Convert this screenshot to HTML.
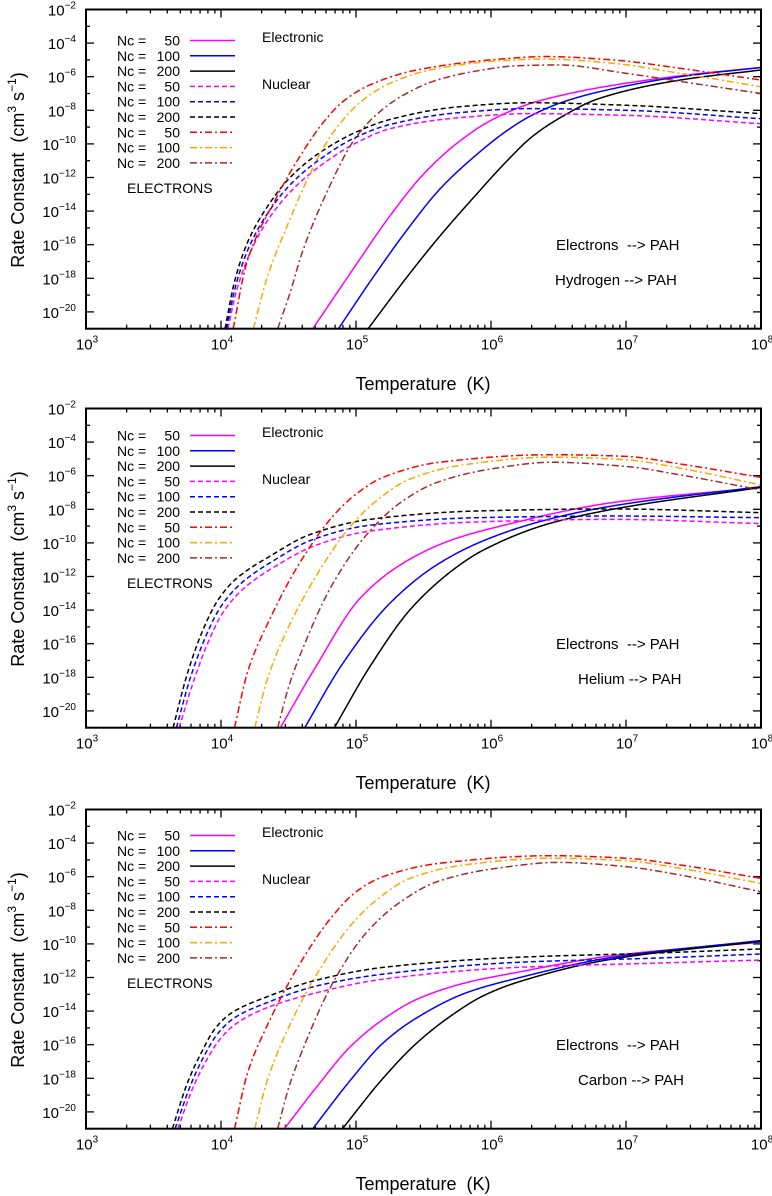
<!DOCTYPE html>
<html><head><meta charset="utf-8">
<style>
html,body{margin:0;padding:0;background:#fff;}
svg{display:block;font-family:"Liberation Sans",Arial,sans-serif;}
</style></head>
<body>
<svg id="chart" width="772" height="1196" viewBox="0 0 772 1196" xmlns="http://www.w3.org/2000/svg"></svg>
<script>
// ---- data (log10 T, log10 rate) ----
const xTicks = [3,4,5,6,7,8];
const yTicks = [-2,-4,-6,-8,-10,-12,-14,-16,-18,-20];
const legendNums = ["50","100","200","50","100","200","50","100","200"];
const panelTitles1 = ["Electrons\u00a0\u00a0--> PAH","Electrons\u00a0\u00a0--> PAH","Electrons\u00a0\u00a0--> PAH"];
const panelTitles2 = ["Hydrogen --> PAH","Helium --> PAH","Carbon --> PAH"];

// Panel 1 (Hydrogen)
const p1_e50 = [[4.68,-21],[5.0,-17.2],[5.25,-14.3],[5.5,-11.8],[5.75,-9.95],[6.0,-8.6],[6.29,-7.6],[6.5,-7.15],[6.8,-6.65],[7.4,-5.95],[8,-5.45]];
const p1_e100 = [[4.87,-21],[5.13,-17.9],[5.38,-15.1],[5.62,-12.7],[5.87,-10.8],[6.12,-9.2],[6.29,-8.35],[6.5,-7.6],[6.8,-6.9],[7.4,-6.0],[8,-5.45]];
const p1_e200 = [[5.09,-21],[5.38,-17.9],[5.62,-15.5],[5.87,-13.2],[6.12,-11.0],[6.3,-9.6],[6.5,-8.5],[6.8,-7.3],[7.4,-6.2],[8,-5.6]];
const p1_n50 = [[4.05,-21],[4.12,-18.6],[4.22,-16.4],[4.35,-14.5],[4.52,-12.8],[4.72,-11.4],[5.0,-9.95],[5.25,-9.1],[5.75,-8.45],[6.29,-8.2],[7,-8.3],[8,-8.8]];
const p1_n100 = [[4.04,-21],[4.11,-18.4],[4.21,-16.1],[4.34,-14.2],[4.51,-12.45],[4.71,-11.05],[5.0,-9.6],[5.25,-8.85],[5.75,-8.15],[6.29,-7.9],[7,-8.0],[8,-8.5]];
const p1_n200 = [[4.03,-21],[4.1,-18.2],[4.2,-15.8],[4.33,-13.9],[4.5,-12.1],[4.7,-10.7],[5.0,-9.3],[5.25,-8.55],[5.75,-7.8],[6.29,-7.55],[7,-7.7],[8,-8.2]];
const p1_x50 = [[4.09,-21],[4.19,-17.1],[4.41,-13.2],[4.58,-10.8],[4.75,-8.8],[4.9,-7.5],[5.1,-6.5],[5.45,-5.6],[6.07,-4.95],[6.4,-4.8],[6.9,-5.0],[7.4,-5.5],[8,-6.2]];
const p1_x100 = [[4.24,-21],[4.34,-18],[4.51,-14.5],[4.64,-12.1],[4.76,-10.2],[4.88,-8.8],[5.05,-7.4],[5.25,-6.4],[5.55,-5.6],[6.07,-5.05],[6.4,-4.95],[6.9,-5.2],[7.4,-5.8],[8,-6.6]];
const p1_x200 = [[4.42,-21],[4.51,-18.9],[4.6,-16.5],[4.76,-13.3],[5.0,-9.6],[5.16,-8.2],[5.35,-7.1],[5.6,-6.2],[5.9,-5.65],[6.19,-5.35],[6.5,-5.3],[7,-5.8],[7.5,-6.4],[8,-7.0]];

// Panel 2 (Helium)
const p2_e50 = [[4.44,-21],[4.7,-17.4],[5.03,-13.3],[5.35,-11.2],[5.7,-9.85],[6.07,-9.0],[6.9,-7.6],[8,-6.7]];
const p2_e100 = [[4.62,-21],[4.9,-17.2],[5.25,-13.6],[5.6,-11.3],[5.95,-9.85],[6.4,-8.65],[6.9,-7.8],[8,-6.65]];
const p2_e200 = [[4.84,-21],[5.1,-17.4],[5.42,-13.8],[5.77,-11.3],[5.95,-10.4],[6.41,-8.9],[6.9,-8.0],[8,-6.7]];
const p2_n50 = [[3.69,-21],[3.79,-18.4],[3.9,-16.0],[4.01,-14.2],[4.13,-13.0],[4.24,-12.25],[4.38,-11.5],[4.7,-10.15],[5.1,-9.3],[5.9,-8.75],[6.9,-8.6],[8,-8.85]];
const p2_n100 = [[3.67,-21],[3.77,-18.1],[3.88,-15.7],[3.99,-13.9],[4.11,-12.7],[4.22,-11.95],[4.36,-11.2],[4.68,-9.8],[5.1,-8.95],[5.9,-8.5],[6.9,-8.4],[8,-8.5]];
const p2_n200 = [[3.645,-21],[3.75,-17.8],[3.86,-15.3],[3.97,-13.5],[4.09,-12.3],[4.2,-11.6],[4.34,-10.9],[4.66,-9.5],[5.1,-8.6],[5.9,-8.1],[6.9,-7.98],[8,-8.2]];
const p2_x50 = [[4.10,-21],[4.2,-17.6],[4.34,-14.9],[4.59,-11.1],[4.83,-8.4],[5.0,-7.1],[5.2,-6.1],[5.62,-5.2],[6.44,-4.75],[7,-4.85],[7.4,-5.3],[8,-6.1]];
const p2_x100 = [[4.25,-21],[4.34,-18.2],[4.46,-15.7],[4.71,-11.9],[4.96,-9.0],[5.15,-7.5],[5.4,-6.2],[5.8,-5.35],[6.44,-4.9],[7,-5.05],[7.4,-5.55],[8,-6.55]];
const p2_x200 = [[4.42,-21],[4.5,-18.6],[4.59,-16.6],[4.83,-12.4],[5.08,-9.5],[5.33,-7.6],[5.6,-6.4],[6.0,-5.6],[6.45,-5.2],[7,-5.45],[7.4,-5.95],[8,-6.85]];

// Panel 3 (Carbon)
const p3_e50 = [[4.47,-21],[4.71,-18.5],[4.96,-16.1],[5.2,-14.5],[5.45,-13.3],[5.82,-12.3],[6.19,-11.7],[6.9,-10.7],[8,-9.9]];
const p3_e100 = [[4.68,-21],[4.96,-18.1],[5.2,-15.9],[5.45,-14.4],[5.82,-12.9],[6.19,-12.05],[6.9,-10.8],[8,-9.8]];
const p3_e200 = [[4.90,-21],[5.2,-18.0],[5.45,-15.9],[5.7,-14.3],[5.94,-13.1],[6.19,-12.3],[6.9,-10.9],[8,-9.85]];
const p3_n50 = [[3.68,-21],[3.79,-18.6],[3.88,-17.1],[4.0,-15.6],[4.12,-14.7],[4.34,-13.8],[4.71,-12.9],[5.2,-12.1],[6.19,-11.4],[7.2,-11.15],[8,-10.96]];
const p3_n100 = [[3.66,-21],[3.77,-18.5],[3.86,-16.9],[3.98,-15.3],[4.1,-14.4],[4.34,-13.5],[4.71,-12.5],[5.2,-11.8],[6.19,-11.1],[7.2,-10.85],[8,-10.6]];
const p3_n200 = [[3.64,-21],[3.75,-18.3],[3.84,-16.7],[3.96,-15.0],[4.08,-14.1],[4.34,-13.15],[4.71,-12.15],[5.2,-11.4],[6.19,-10.8],[7.2,-10.55],[8,-10.3]];
const p3_x50 = [[4.10,-21],[4.2,-17.6],[4.34,-14.9],[4.59,-11.1],[4.83,-8.3],[5.0,-6.9],[5.2,-6.0],[5.62,-5.2],[6.44,-4.75],[7,-4.9],[7.4,-5.3],[8,-6.1]];
const p3_x100 = [[4.25,-21],[4.34,-18.2],[4.46,-15.7],[4.71,-11.8],[4.96,-8.9],[5.15,-7.4],[5.4,-6.1],[5.8,-5.3],[6.44,-4.9],[7,-5.05],[7.4,-5.5],[8,-6.4]];
const p3_x200 = [[4.42,-21],[4.5,-18.6],[4.59,-16.6],[4.83,-12.3],[5.08,-9.3],[5.33,-7.5],[5.6,-6.3],[6.0,-5.55],[6.5,-5.15],[7,-5.4],[7.4,-5.9],[8,-6.9]];

const panelSeries = [
  [p1_e50,p1_e100,p1_e200,p1_n50,p1_n100,p1_n200,p1_x50,p1_x100,p1_x200],
  [p2_e50,p2_e100,p2_e200,p2_n50,p2_n100,p2_n200,p2_x50,p2_x100,p2_x200],
  [p3_e50,p3_e100,p3_e200,p3_n50,p3_n100,p3_n200,p3_x50,p3_x100,p3_x200]
];
const seriesNames = ["electronic-nc50","electronic-nc100","electronic-nc200","nuclear-nc50","nuclear-nc100","nuclear-nc200","electrons-nc50","electrons-nc100","electrons-nc200"];
const colors = ["#ff00ff","#0000ff","#000000","#ff00ff","#0000ff","#000000","#ff0000","#ffa500","#a52a2a"];
const dashes = ["","","","5,3","5,3","5,3","7,3,2,3","7,3,2,3","7,3,2,3"];

// ---- drawing ----
const NS = "http://www.w3.org/2000/svg";
const svg = document.getElementById("chart");
const L = 86, R = 761, PX = 135, PY = 16.8;
const offsets = [0, 399, 800];
const legOff = [0, 395, 795];
function mk(tag, attrs, parent){ const e=document.createElementNS(NS,tag); for(const k in attrs) e.setAttribute(k,attrs[k]); (parent||svg).appendChild(e); return e; }
function xs(lt){ return L + (lt-3)*PX; }
function ysf(top){ return lk => top + (-2 - lk)*PY; }
function monotone(pts){
  const n=pts.length, xv=pts.map(p=>p[0]), yv=pts.map(p=>p[1]);
  const d=[], m=new Array(n);
  for(let i=0;i<n-1;i++) d.push((yv[i+1]-yv[i])/(xv[i+1]-xv[i]));
  m[0]=d[0]; m[n-1]=d[n-2];
  for(let i=1;i<n-1;i++){
    if(d[i-1]*d[i]<=0) m[i]=0;
    else { const w1=2*(xv[i+1]-xv[i])+(xv[i]-xv[i-1]), w2=(xv[i+1]-xv[i])+2*(xv[i]-xv[i-1]);
      m[i]=(w1+w2)/(w1/d[i-1]+w2/d[i]); }
  }
  const out=[];
  for(let i=0;i<n-1;i++){
    const h=xv[i+1]-xv[i];
    const steps=Math.max(4,Math.ceil(h*120));
    for(let s=(i===0?0:1);s<=steps;s++){
      const t=s/steps, t2=t*t, t3=t2*t;
      const y=(2*t3-3*t2+1)*yv[i]+(t3-2*t2+t)*h*m[i]+(-2*t3+3*t2)*yv[i+1]+(t3-t2)*h*m[i+1];
      out.push([xv[i]+t*h,y]);
    }
  }
  return out;
}
function pow10(g, x, y, exp, anchor, name){
  const t = mk("text",{x:x,y:y,"font-size":15,"text-anchor":anchor,fill:"#000"},g);
  
  
  t.appendChild(document.createTextNode("10"));
  const s = mk("tspan",{"font-size":10,dy:-7},t);
  s.textContent = exp;
}

for(let p=0;p<3;p++){
  const off = offsets[p], top = 9.5+off, bot = top+19*PY;
  const ys = ysf(top);
  const g = mk("g",{});
  
  
  const cid = "clip"+p;
  const cp = mk("clipPath",{id:cid},g);
  mk("rect",{x:L,y:top,width:R-L,height:bot-top},cp);

  for(let lk=-2; lk>=-21; lk--){
    const y=ys(lk), len = (lk%2===0)?8:4;
    const t1=mk("line",{x1:L,y1:y,x2:L+len,y2:y,stroke:"#000","stroke-width":1.3},g);
    
    
    const t2=mk("line",{x1:R,y1:y,x2:R-len,y2:y,stroke:"#000","stroke-width":1.3},g);
    
    
  }
  yTicks.forEach(v=>{ pow10(g, 76, ys(v)+6, "\u2212"+(-v), "end", "y-tick-label"); });
  for(let d=3; d<8; d++){
    for(let m=1;m<10;m++){
      const x = xs(d+Math.log10(m)), len = m===1?8:4;
      const a=mk("line",{x1:x,y1:bot,x2:x,y2:bot-len,stroke:"#000","stroke-width":1.3},g);
      
      
      const b=mk("line",{x1:x,y1:top,x2:x,y2:top+len,stroke:"#000","stroke-width":1.3},g);
      
      
    }
  }
  xTicks.forEach(v=>{ pow10(g, xs(v)+1, bot+21, String(v), "middle", "x-tick-label"); });

  panelSeries[p].forEach((ser,i)=>{
    const pts = monotone(ser).map(q=>[xs(q[0]), ys(q[1])]);
    const d = "M"+pts.map(q=>q[0].toFixed(2)+","+q[1].toFixed(2)).join(" L");
    const path = mk("path",{d:d,fill:"none",stroke:colors[i],"stroke-width":1.5,"stroke-dasharray":dashes[i]||"none","clip-path":"url(#"+cid+")"},g);
    
    
  });

  const fr = mk("rect",{x:L,y:top,width:R-L,height:bot-top,fill:"none",stroke:"#000","stroke-width":2},g);
  
  

  const lo = legOff[p];
  const lg = mk("g",{},g);
  
  
  legendNums.forEach((n,i)=>{
    const y = 40.5 + lo + i*15.3;
    const e = mk("g",{},lg);
    
    
    const a = mk("text",{x:117,y:y+5,"font-size":14},e); a.textContent="Nc =";
    const b = mk("text",{x:180,y:y+5,"font-size":14,"text-anchor":"end"},e); b.textContent=n;
    mk("line",{x1:190,y1:y,x2:235,y2:y,stroke:colors[i],"stroke-width":1.5,"stroke-dasharray":dashes[i]||"none"},e);
  });
  const el = mk("text",{x:127,y:193+lo,"font-size":14},g); el.textContent="ELECTRONS";
   
  const ec = mk("text",{x:262,y:42+lo,"font-size":14},g); ec.textContent="Electronic";
   
  const nu = mk("text",{x:262,y:89+lo,"font-size":14},g); nu.textContent="Nuclear";
   

  const t1 = mk("text",{x:556,y:250+off,"font-size":15},g); t1.textContent=panelTitles1[p];
   
  const t2 = mk("text",{x:p===0?555:578,y:285+off,"font-size":15},g); t2.textContent=panelTitles2[p];
   

  const xt = mk("text",{x:423,y:390+off,"font-size":18,"text-anchor":"middle"},g);
  xt.textContent="Temperature\u00a0\u00a0(K)";
   
  const yt = mk("text",{x:0,y:0,"font-size":18,"text-anchor":"middle",transform:"translate(24,"+(170+off)+") rotate(-90)"},g);
   
  yt.appendChild(document.createTextNode("Rate Constant\u00a0\u00a0(cm"));
  let s1 = mk("tspan",{"font-size":12,dy:-8},yt); s1.textContent="3";
  let s2 = mk("tspan",{dy:8},yt); s2.textContent="\u00a0s";
  let s3 = mk("tspan",{"font-size":12,dy:-8},yt); s3.textContent="\u22121";
  let s4 = mk("tspan",{dy:8},yt); s4.textContent=")";
}
</script>
</body></html>
